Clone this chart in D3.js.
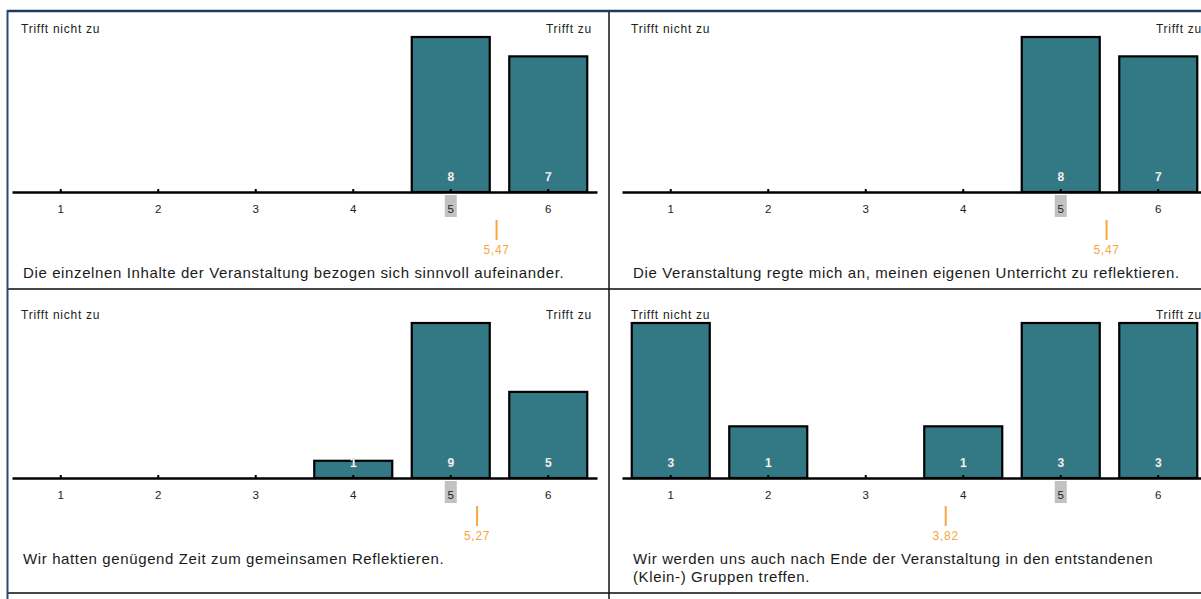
<!DOCTYPE html>
<html>
<head>
<meta charset="utf-8">
<script src="https://cdn.jsdelivr.net/npm/d3@7"></script>
<style>
  html, body { margin: 0; padding: 0; background: #fff; }
  svg { display: block; }
  text { font-family: "Liberation Sans", Arial, sans-serif; }
</style>
</head>
<body>
<svg id="chart" width="1201" height="599"></svg>
<script>
// ---- data ----
const categories = [1, 2, 3, 4, 5, 6];
const questions = [
  ["Die einzelnen Inhalte der Veranstaltung bezogen sich sinnvoll aufeinander."],
  ["Die Veranstaltung regte mich an, meinen eigenen Unterricht zu reflektieren."],
  ["Wir hatten genügend Zeit zum gemeinsamen Reflektieren."],
  ["Wir werden uns auch nach Ende der Veranstaltung in den entstandenen", "(Klein-) Gruppen treffen."]
];
const counts1 = [0, 0, 0, 0, 8, 7];
const counts2 = [0, 0, 0, 0, 8, 7];
const counts3 = [0, 0, 0, 1, 9, 5];
const counts4 = [3, 1, 0, 1, 3, 3];
const means = [5.47, 5.47, 5.27, 3.82];
const meanLabels = ["5,47", "5,47", "5,27", "3,82"];
const medians = [5, 5, 5, 5];
const leftLabel = "Trifft nicht zu";
const rightLabel = "Trifft zu";

const allCounts = [counts1, counts2, counts3, counts4];

// ---- layout ----
const svg = d3.select("#chart");
const colOffsets = [0, 610];
const rowOffsets = [0, 286];
const axisY = 192, topY = 37;
const barColor = "#337985";
const orange = "#f6a73f";

// frame lines
svg.append("line").attr("x1", 7).attr("x2", 1201).attr("y1", 11).attr("y2", 11)
  .attr("stroke", "#1f3a5c").attr("stroke-width", 2.5);
svg.append("line").attr("x1", 7).attr("x2", 1201).attr("y1", 289).attr("y2", 289)
  .attr("stroke", "#474747").attr("stroke-width", 2);
svg.append("line").attr("x1", 7).attr("x2", 1201).attr("y1", 593).attr("y2", 593)
  .attr("stroke", "#474747").attr("stroke-width", 2);
svg.append("line").attr("x1", 7.5).attr("x2", 7.5).attr("y1", 10).attr("y2", 599)
  .attr("stroke", "#2a4a78").attr("stroke-width", 2);
svg.append("line").attr("x1", 609).attr("x2", 609).attr("y1", 12).attr("y2", 599)
  .attr("stroke", "#111").attr("stroke-width", 1.5);

allCounts.forEach((counts, i) => {
  const g = svg.append("g")
    .attr("transform", `translate(${colOffsets[i % 2]},${rowOffsets[Math.floor(i / 2)]})`);

  const x = d3.scaleBand().domain(categories).range([12, 597])
    .paddingInner(0.2).paddingOuter(0.1);
  const bw = x.bandwidth();
  const y = d3.scaleLinear().domain([0, d3.max(counts)]).range([axisY, topY]);
  const xm = d3.scaleLinear().domain([categories[0], categories[categories.length - 1]])
    .range([x(categories[0]) + bw / 2, x(categories[categories.length - 1]) + bw / 2]);

  const data = categories.map((c, k) => ({ c, v: counts[k] })).filter(d => d.v > 0);

  // end labels
  g.append("text").attr("x", 21).attr("y", 33).attr("font-size", 12)
    .attr("letter-spacing", 0.75).attr("fill", "#222").text(leftLabel);
  g.append("text").attr("x", 592).attr("y", 33).attr("font-size", 12)
    .attr("letter-spacing", 0.75)
    .attr("text-anchor", "end").attr("fill", "#222").text(rightLabel);

  // bars
  g.selectAll("rect.bar").data(data).join("rect").attr("class", "bar")
    .attr("x", d => x(d.c)).attr("width", bw)
    .attr("y", d => y(d.v)).attr("height", d => y(0) - y(d.v))
    .attr("fill", barColor).attr("stroke", "#000").attr("stroke-width", 2.2);

  // median highlight
  g.append("rect")
    .attr("x", x(medians[i]) + bw / 2 - 6).attr("width", 12)
    .attr("y", axisY + 3).attr("height", 22)
    .attr("fill", "#c2c2c2");

  // axis
  const ax = g.append("g").attr("transform", `translate(0,${axisY})`)
    .call(d3.axisBottom(x).tickSizeInner(-3).tickSizeOuter(0).tickPadding(13));
  ax.select(".domain").attr("stroke", "#000").attr("stroke-width", 2.5);
  ax.selectAll(".tick line").attr("stroke", "#000").attr("stroke-width", 2);
  ax.selectAll(".tick text").attr("font-size", 11.5).attr("fill", "#222")
    .attr("font-family", "Liberation Sans, Arial, sans-serif");

  // count labels
  g.selectAll("text.cnt").data(data).join("text").attr("class", "cnt")
    .attr("x", d => x(d.c) + bw / 2).attr("y", axisY - 11)
    .attr("text-anchor", "middle").attr("font-size", 12).attr("font-weight", "bold")
    .attr("fill", "#fff").attr("stroke", "#9a9a9a").attr("stroke-width", 0.25)
    .text(d => d.v);

  // mean marker
  g.append("line").attr("x1", xm(means[i])).attr("x2", xm(means[i]))
    .attr("y1", 220).attr("y2", 240).attr("stroke", orange).attr("stroke-width", 2);
  g.append("text").attr("x", xm(means[i])).attr("y", 254)
    .attr("text-anchor", "middle").attr("font-size", 12).attr("letter-spacing", 0.75)
    .attr("fill", orange)
    .text(meanLabels[i]);

  // question text
  g.selectAll("text.q").data(questions[i]).join("text").attr("class", "q")
    .attr("x", 23).attr("y", (d, k) => 278 + k * 18)
    .attr("font-size", 15).attr("letter-spacing", 0.62).attr("fill", "#1a1a1a")
    .text(d => d);
});
</script>
</body>
</html>
